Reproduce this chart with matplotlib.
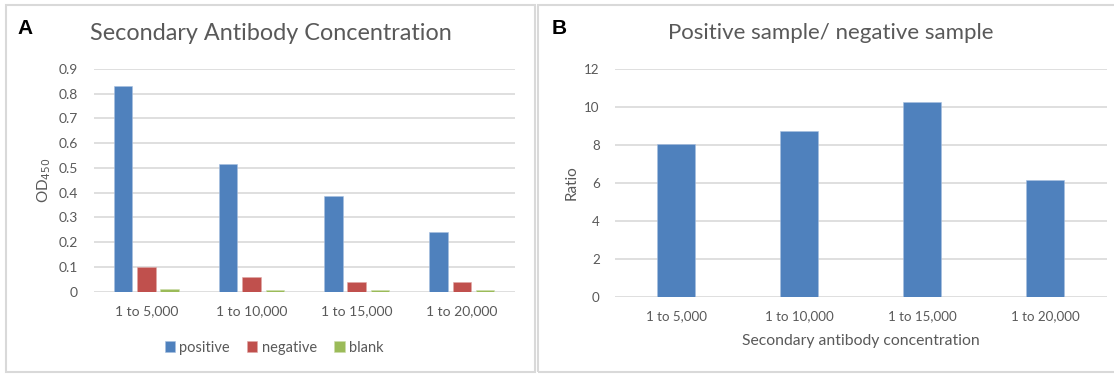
import matplotlib
matplotlib.use("Agg")
import matplotlib.pyplot as plt
import numpy as np
from matplotlib.patches import Rectangle

categories = ["1 to 5,000", "1 to 10,000", "1 to 15,000", "1 to 20,000"]
positive = [0.83, 0.515, 0.387, 0.24]
negative = [0.10, 0.058, 0.038, 0.038]
blank = [0.011, 0.006, 0.008, 0.008]
ratio = [8.05, 8.73, 10.25, 6.12]

FONT = "Lato"
TXT = "#595959"
GRID = "#d9d9d9"
BLUE, RED, GREEN = "#4f81bd", "#c0504d", "#9bbb59"

plt.rcParams["font.family"] = [FONT, "DejaVu Sans"]

W, H = 1114, 374
fig = plt.figure(figsize=(W / 100, H / 100), dpi=100)

def fx(x):
    return x / W

def fy(y):
    return 1 - y / H

# panel borders
fig.patches.append(Rectangle((fx(6), fy(372.3)), fx(535 - 6), (372.3 - 4.8) / H,
                             transform=fig.transFigure, fill=False, edgecolor="#d9d9d9", lw=1.5))
fig.patches.append(Rectangle((fx(537.5), fy(372.3)), fx(1125 - 537.5), (372.3 - 4.8) / H,
                             transform=fig.transFigure, fill=False, edgecolor="#d9d9d9", lw=1.5))

def style(ax, ypad, size):
    for s in ax.spines.values():
        s.set_visible(False)
    ax.yaxis.grid(True, color=GRID, lw=1.2)
    ax.set_axisbelow(True)
    ax.tick_params(length=0, colors=TXT, labelsize=size)
    ax.tick_params(axis="y", pad=ypad)
    ax.tick_params(axis="x", pad=10)

# Panel A
axA = fig.add_axes([fx(93.7), fy(291.7), fx(514.5 - 93.7), (291.7 - 69) / H])
x = np.arange(len(categories))
bw = 0.175
step = 0.222
axA.bar(x - step, positive, bw, color=BLUE, label="positive", edgecolor="#a7bfdf", lw=0.4)
axA.bar(x, negative, bw, color=RED, label="negative", edgecolor="#dfa7a6", lw=0.4)
axA.bar(x + step, blank, bw, color=GREEN, label="blank", edgecolor="#cddcac", lw=0.4)
axA.set_xlim(-0.5, 3.5)
axA.set_ylim(0, 0.9)
axA.set_yticks(np.arange(0, 0.91, 0.1))
axA.set_yticklabels(["0"] + [f"{v:.1f}" for v in np.arange(0.1, 0.91, 0.1)])
axA.set_xticks(x)
axA.set_xticklabels(categories)
style(axA, 11.5, 10)
axA.set_ylabel("OD$_{450}$", color=TXT, fontsize=11, labelpad=4)
leg = axA.legend(loc="center", bbox_to_anchor=(fx(274), fy(347.7)), bbox_transform=fig.transFigure,
                 ncol=3, frameon=False, fontsize=10.5, handlelength=0.7, handleheight=0.7,
                 handletextpad=0.3, columnspacing=1.2, labelcolor=TXT)

fig.text(fx(270.5), fy(33), "Secondary Antibody Concentration", ha="center", va="center",
         fontsize=16.8, color=TXT)
fig.text(fx(17), fy(28), "A", ha="left", va="center", fontsize=15, fontweight="bold",
         color="black", family=["Liberation Sans", "DejaVu Sans"])

# Panel B
axB = fig.add_axes([fx(615), fy(296.5), fx(1106.5 - 615), (296.5 - 68.5) / H])
axB.bar(x, ratio, 0.31, color=BLUE, edgecolor="#a7bfdf", lw=0.4)
axB.set_xlim(-0.5, 3.5)
axB.set_ylim(0, 12)
axB.set_yticks(np.arange(0, 13, 2))
axB.set_xticks(x)
axB.set_xticklabels(categories)
style(axB, 11, 9.6)
axB.set_ylabel("Ratio", color=TXT, fontsize=11, labelpad=4)
axB.set_xlabel("Secondary antibody concentration", color=TXT, fontsize=11.3, labelpad=8)

fig.text(fx(831), fy(33), "Positive sample/ negative sample", ha="center", va="center",
         fontsize=16, color=TXT)
fig.text(fx(552), fy(28), "B", ha="left", va="center", fontsize=15, fontweight="bold",
         color="black", family=["Liberation Sans", "DejaVu Sans"])

fig.savefig("out.png", dpi=100)
